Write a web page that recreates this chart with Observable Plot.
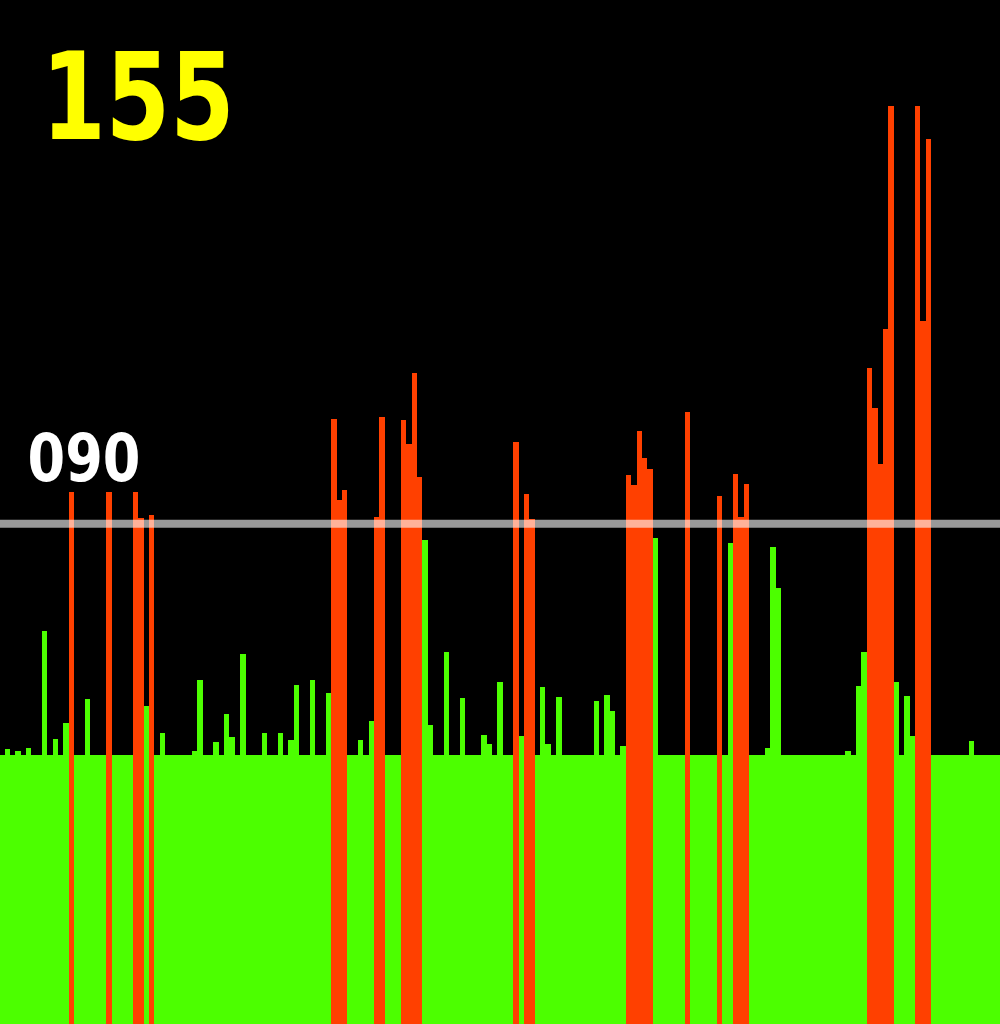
<!DOCTYPE html>
<html>
<head>
<meta charset="utf-8">
<script src="https://cdn.jsdelivr.net/npm/d3@7"></script>
<script src="https://cdn.jsdelivr.net/npm/@observablehq/plot@0.6"></script>
<style>
  html, body { margin: 0; padding: 0; background: #000; }
  #chart svg { display: block; }
</style>
</head>
<body>
<div id="chart"></div>
<script>
// Level of each bar (dB-like units); 48.3 is the floor level
const levels = [
  48.3, 49.5, 48.3, 49.1, 48.3, 49.6, 48.3, 48.3, 70.6, 48.3,
  51.2, 48.3, 54.1, 95.6, 48.3, 48.3, 58.4, 48.3, 48.3, 48.3,
  95.6, 48.3, 48.3, 48.3, 48.3, 95.6, 90.9, 57.1, 91.5, 48.3,
  52.2, 48.3, 48.3, 48.3, 48.3, 48.3, 49.1, 61.8, 48.3, 48.3,
  50.6, 48.3, 55.7, 51.5, 48.3, 66.4, 48.3, 48.3, 48.3, 52.3,
  48.3, 48.3, 52.2, 48.3, 51.1, 60.9, 48.3, 48.3, 61.8, 48.3,
  48.3, 59.4, 108.8, 94.2, 96.0, 48.3, 48.3, 51.0, 48.3, 54.4,
  91.1, 109.0, 48.3, 48.3, 48.3, 108.5, 104.2, 116.9, 98.2, 87.0,
  53.7, 48.3, 48.3, 66.8, 48.3, 48.3, 58.5, 48.3, 48.3, 48.3,
  51.9, 50.4, 48.3, 61.4, 48.3, 48.3, 104.5, 51.8, 95.3, 90.8,
  48.3, 60.5, 50.4, 48.3, 58.7, 48.3, 48.3, 48.3, 48.3, 48.3,
  48.3, 58.0, 48.3, 59.2, 56.3, 48.3, 50.0, 98.7, 96.9, 106.6,
  101.7, 99.7, 87.3, 48.3, 48.3, 48.3, 48.3, 48.3, 110.0, 48.3,
  48.3, 48.3, 48.3, 48.3, 94.9, 48.3, 86.4, 98.8, 91.1, 97.1,
  48.3, 48.3, 48.3, 49.6, 85.8, 78.3, 48.3, 48.3, 48.3, 48.3,
  48.3, 48.3, 48.3, 48.3, 48.3, 48.3, 48.3, 48.3, 49.0, 48.3,
  60.8, 66.8, 117.9, 110.7, 100.7, 124.9, 164.9, 61.5, 48.3, 58.9,
  51.8, 164.9, 126.4, 159.1, 48.3, 48.3, 48.3, 48.3, 48.3, 48.3,
  48.3, 50.9, 48.3, 48.3, 48.3, 48.3, 48.3
];
const threshold = 90;
const thresholdLabel = "090";
const readingLabel = "155";
const states = ["normal", "over"];
const stateColors = ["#4cff00", "#ff4000"];

const data = levels.map((v, i) => ({i, v, state: v > threshold ? "over" : "normal"}));

const W = 1000, H = 1024;

const plot = Plot.plot({
  width: W,
  height: H,
  margin: 0,
  style: {background: "#000"},
  x: {domain: [0, levels.length], range: [-0.85, 1000.72], axis: null},
  y: {domain: [0, 184], range: [H, 0], axis: null},
  color: {domain: states, range: stateColors},
  marks: [
    Plot.rect(data, {
      x1: "i",
      x2: d => d.i + 1,
      y1: 0,
      y2: "v",
      fill: "state",
      shapeRendering: "crispEdges"
    }),
    Plot.ruleY([threshold], {stroke: "#ffffff", strokeOpacity: 0.6, strokeWidth: 8}),
    Plot.text([thresholdLabel], {
      y: () => threshold,
      frameAnchor: "left",
      textAnchor: "start",
      lineAnchor: "bottom",
      dx: 27,
      dy: -43,
      fontSize: 65,
      fontWeight: "bold",
      fontFamily: "DejaVu Sans",
      fill: "#ffffff"
    }),
    Plot.text([readingLabel], {
      frameAnchor: "top-left",
      textAnchor: "start",
      lineAnchor: "bottom",
      dx: 41,
      dy: 138,
      fontSize: 121,
      fontWeight: "bold",
      fontFamily: "DejaVu Sans",
      fill: "#ffff00"
    })
  ]
});

plot.querySelectorAll("text").forEach(t => {
  const s = t.textContent;
  if (s === readingLabel) {
    t.setAttribute("textLength", 193);
    t.setAttribute("lengthAdjust", "spacingAndGlyphs");
  } else if (s === thresholdLabel) {
    t.setAttribute("textLength", 113);
    t.setAttribute("lengthAdjust", "spacingAndGlyphs");
  }
});

document.getElementById("chart").appendChild(plot);
</script>
</body>
</html>
